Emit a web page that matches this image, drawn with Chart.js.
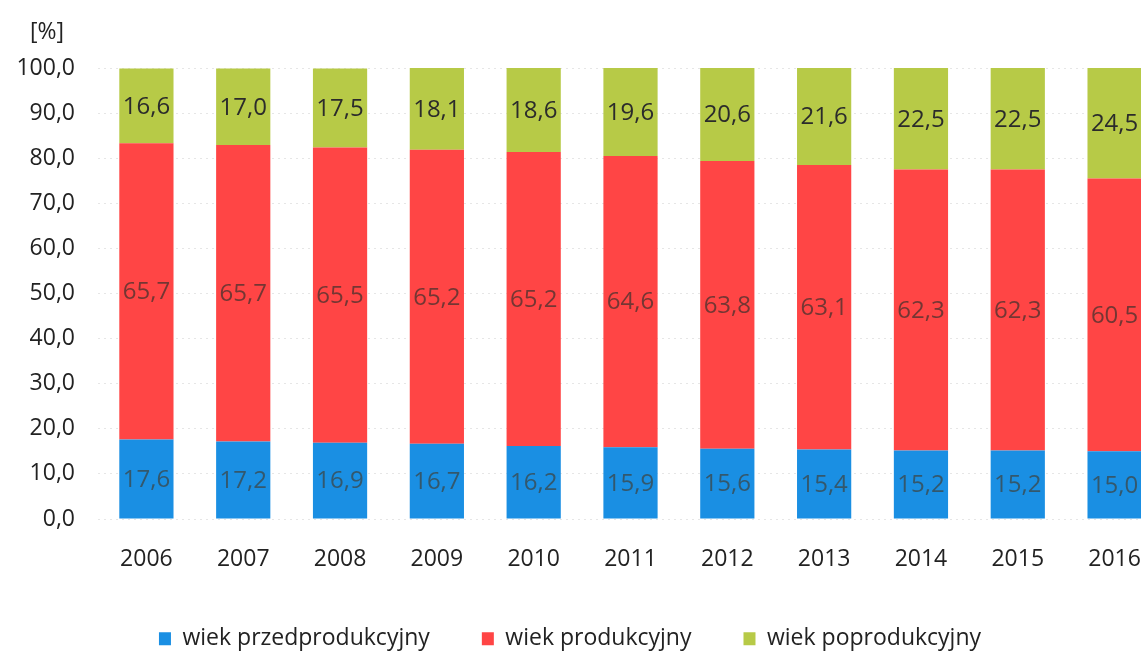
<!DOCTYPE html>
<html><head><meta charset="utf-8">
<script src="https://cdn.jsdelivr.net/npm/chart.js@4.4.0/dist/chart.umd.min.js"></script>
<style>
html,body{margin:0;padding:0;background:#fff;overflow:hidden}
#wrap{width:1141px;height:654px;overflow:hidden;position:relative}
canvas{display:block}
</style></head>
<body><div id="wrap"><canvas id="c" width="1163" height="654"></canvas></div>
<script>
const years = ['2006','2007','2008','2009','2010','2011','2012','2013','2014','2015','2016'];
const preProductive = [17.6,17.2,16.9,16.7,16.2,15.9,15.6,15.4,15.2,15.2,15.0];
const productive = [65.7,65.7,65.5,65.2,65.2,64.6,63.8,63.1,62.3,62.3,60.5];
const postProductive = [16.6,17.0,17.5,18.1,18.6,19.6,20.6,21.6,22.5,22.5,24.5];
const seriesNames = ['wiek przedprodukcyjny','wiek produkcyjny','wiek poprodukcyjny'];
const unitLabel = '[%]';

const colors = ['#1A8FE3','#FF4545','#B7CA47'];
const labelColors = ['rgba(60,70,70,0.75)','rgba(70,50,45,0.75)','#2b2b2b'];
const FONT = "'Open Sans', sans-serif";
const fmt = v => v.toFixed(1).replace('.', ',');
const LEG_PAD = 52;
const LEG_FONT = 23;

const valueLabels = {
  id: 'valueLabels',
  afterDatasetsDraw(chart) {
    const ctx = chart.ctx;
    ctx.save();
    ctx.font = "24px " + FONT;
    ctx.textAlign = 'center';
    ctx.textBaseline = 'middle';
    chart.data.datasets.forEach((ds, di) => {
      const meta = chart.getDatasetMeta(di);
      meta.data.forEach((bar, i) => {
        const p = bar.getProps(['x','y','base'], true);
        ctx.fillStyle = labelColors[di];
        ctx.fillText(fmt(ds.data[i]), p.x, (p.y + p.base) / 2 + 1);
      });
    });
    ctx.restore();
  }
};

const unitTitle = {
  id: 'unitTitle',
  afterDraw(chart) {
    const ctx = chart.ctx;
    ctx.save();
    ctx.font = "23px " + FONT;
    ctx.fillStyle = '#222';
    ctx.textAlign = 'left';
    ctx.textBaseline = 'middle';
    ctx.fillText(unitLabel, 30, 32);
    ctx.restore();
  }
};

const legendShift = {
  id: 'legendShift',
  afterLayout(chart) {
    const l = chart.legend;
    const dx = -11.5;
    const dy = 640 - (l.top + LEG_PAD + LEG_FONT * 0.55);
    l.left += dx; l.right += dx;
    l.top += dy; l.bottom += dy;
  }
};

new Chart(document.getElementById('c'), {
  type: 'bar',
  data: {
    labels: years,
    datasets: [
      { label: seriesNames[0], data: preProductive, backgroundColor: colors[0] },
      { label: seriesNames[1], data: productive, backgroundColor: colors[1] },
      { label: seriesNames[2], data: postProductive, backgroundColor: colors[2] }
    ]
  },
  options: {
    responsive: false,
    animation: false,
    layout: { padding: { top: 68, left: 0, right: 0, bottom: 0 } },
    datasets: { bar: { categoryPercentage: 1, barPercentage: 0.56, borderWidth: 0 } },
    scales: {
      x: {
        stacked: true,
        grid: { display: false, drawTicks: false },
        border: { display: false },
        ticks: { color: '#222', font: { family: FONT, size: 23 }, padding: 27, maxRotation: 0, autoSkip: false },
        afterFit(s) {
          s.height = 654 - 519 - s.chart.legend.height;
          s.paddingLeft = 0; s.paddingRight = 0;
        }
      },
      y: {
        stacked: true,
        min: 0, max: 100,
        grid: { color: '#e6e6e6', drawTicks: false },
        border: { display: false, dash: [2,4] },
        ticks: { stepSize: 10, color: '#222', font: { family: FONT, size: 23 }, padding: 23, callback: v => fmt(v) },
        afterFit(s) { s.width = 98; }
      }
    },
    plugins: {
      legend: {
        position: 'bottom',
        labels: { font: { family: FONT, size: LEG_FONT }, color: '#222', boxWidth: 12, boxHeight: 13, padding: LEG_PAD }
      },
      tooltip: { enabled: false }
    }
  },
  plugins: [valueLabels, unitTitle, legendShift]
});
</script>
</body></html>
